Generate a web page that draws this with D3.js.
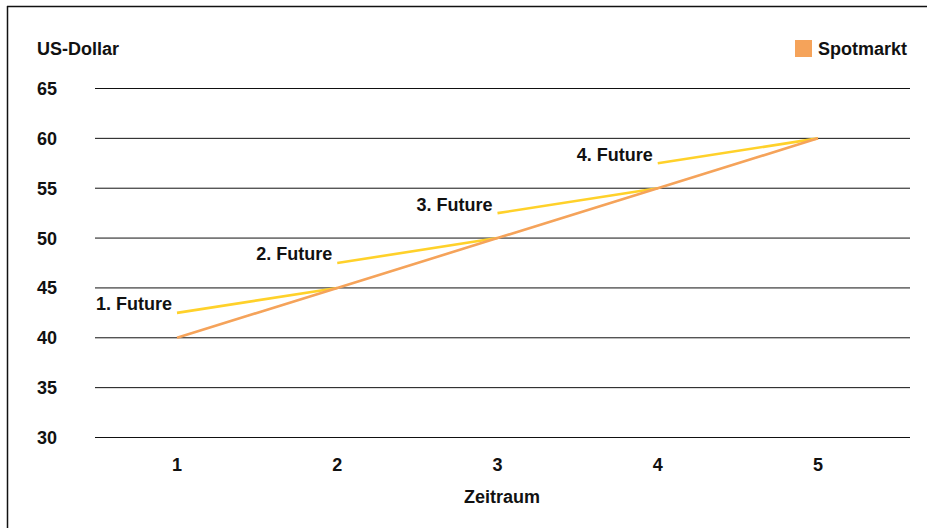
<!DOCTYPE html>
<html>
<head>
<meta charset="utf-8">
<script src="https://cdn.jsdelivr.net/npm/d3@7"></script>
<style>
  html, body { margin: 0; padding: 0; background: #fff; }
  svg { display: block; font-family: "Liberation Sans", Arial, sans-serif; }
</style>
</head>
<body>
<svg id="chart" width="931" height="528"></svg>
<script>
// Periods on the x axis
const periods = [1, 2, 3, 4, 5];
// Spot market price per period (US-Dollar)
const spotPrices = [40, 45, 50, 55, 60];
// Each future: start period/price and expiry period/price
const futureNames = ["1. Future", "2. Future", "3. Future", "4. Future"];
const futureStart = [1, 2, 3, 4];
const futureStartPrice = [42.5, 47.5, 52.5, 57.5];
const futureEnd = [2, 3, 4, 5];
const futureEndPrice = [45, 50, 55, 60];
// Y axis ticks
const yTicks = [30, 35, 40, 45, 50, 55, 60, 65];

const svg = d3.select("#chart");
const W = 931, H = 528;
const FS = 18;

const spotColor = "#F5A35A";
const futureColor = "#FFD12A";

// Outer frame (top and left edges visible)
svg.append("line").attr("x1", 7).attr("x2", 927).attr("y1", 6.5).attr("y2", 6.5)
  .attr("stroke", "#111").attr("stroke-width", 1.5);
svg.append("line").attr("x1", 7.5).attr("x2", 7.5).attr("y1", 6).attr("y2", H)
  .attr("stroke", "#111").attr("stroke-width", 1.5);

const x = d3.scalePoint().domain(periods).range([177, 818]);
const y = d3.scaleLinear().domain([30, 65]).range([437.5, 88.5]);
const gridLeft = 95, gridRight = 910;

// Horizontal grid lines
svg.append("g").selectAll("line").data(yTicks).join("line")
  .attr("x1", gridLeft).attr("x2", gridRight)
  .attr("y1", d => y(d)).attr("y2", d => y(d))
  .attr("stroke", "#111").attr("stroke-width", 1);

// Y tick labels (left aligned)
svg.append("g").selectAll("text").data(yTicks).join("text")
  .attr("x", 37).attr("y", d => y(d)).attr("dy", "0.36em")
  .attr("font-size", FS).attr("font-weight", "bold").attr("fill", "#111")
  .text(d => d);

// X tick labels
svg.append("g").selectAll("text").data(periods).join("text")
  .attr("x", d => x(d)).attr("y", 470.5)
  .attr("text-anchor", "middle")
  .attr("font-size", FS).attr("font-weight", "bold").attr("fill", "#111")
  .text(d => d);

// Axis titles
svg.append("text").attr("x", 37).attr("y", 55)
  .attr("font-size", FS).attr("font-weight", "bold").attr("fill", "#111")
  .text("US-Dollar");
svg.append("text").attr("x", 502).attr("y", 503).attr("text-anchor", "middle")
  .attr("font-size", FS).attr("font-weight", "bold").attr("fill", "#111")
  .text("Zeitraum");

// Legend
svg.append("rect").attr("x", 795).attr("y", 40).attr("width", 17).attr("height", 17)
  .attr("fill", spotColor);
svg.append("text").attr("x", 818).attr("y", 54.5)
  .attr("font-size", FS).attr("font-weight", "bold").attr("fill", "#111")
  .text("Spotmarkt");

// Future lines
const futures = futureNames.map((n, i) => ({
  name: n, x0: futureStart[i], y0: futureStartPrice[i], x1: futureEnd[i], y1: futureEndPrice[i]
}));
svg.append("g").selectAll("line").data(futures).join("line")
  .attr("x1", d => x(d.x0)).attr("y1", d => y(d.y0))
  .attr("x2", d => x(d.x1)).attr("y2", d => y(d.y1))
  .attr("stroke", futureColor).attr("stroke-width", 2.6);

// Spot market line
const line = d3.line().x((d, i) => x(periods[i])).y(d => y(d));
svg.append("path").datum(spotPrices).attr("d", line)
  .attr("fill", "none").attr("stroke", spotColor).attr("stroke-width", 2.6);

// Future labels beside their start points
svg.append("g").selectAll("text").data(futures).join("text")
  .attr("x", d => x(d.x0) - 5).attr("y", d => y(d.y0) - 9).attr("dy", "0.36em")
  .attr("text-anchor", "end")
  .attr("font-size", FS).attr("font-weight", "bold").attr("fill", "#111")
  .text(d => d.name);
</script>
</body>
</html>
